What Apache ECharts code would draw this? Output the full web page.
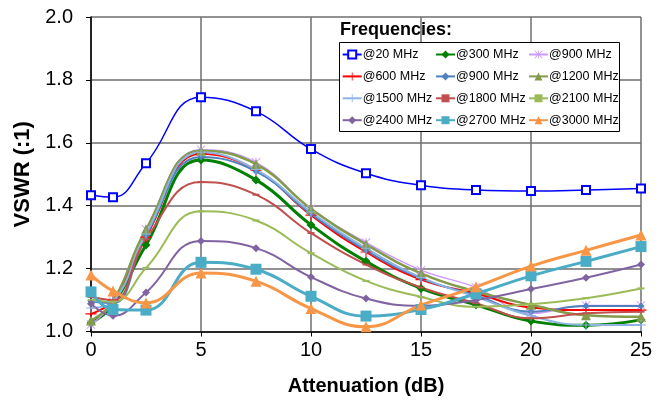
<!DOCTYPE html>
<html><head><meta charset="utf-8">
<script src="https://cdn.jsdelivr.net/npm/echarts@6/dist/echarts.min.js"></script>
<style>html,body{margin:0;padding:0;background:#fff}#c{width:662px;height:407px}</style>
</head><body><div id="c"></div>
<script>
const attenuation = [0, 1, 2.5, 5, 7.5, 10, 12.5, 15, 17.5, 20, 22.5, 25];
const seriesNames = ['@20 MHz','@300 MHz','@900 MHz','@600 MHz','@900 MHz ','@1200 MHz','@1500 MHz','@1800 MHz','@2100 MHz','@2400 MHz','@2700 MHz','@3000 MHz'];
const vswr20   = [1.433,1.427,1.535,1.745,1.700,1.580,1.503,1.465,1.450,1.447,1.450,1.455];
const vswr300  = [1.027,1.085,1.275,1.545,1.482,1.339,1.223,1.137,1.085,1.033,1.020,1.037];
const vswr900a = [1.022,1.095,1.325,1.578,1.538,1.390,1.283,1.195,1.140,1.058,1.083,1.083];
const vswr600  = [1.056,1.100,1.300,1.565,1.513,1.370,1.253,1.165,1.121,1.076,1.068,1.068];
const vswr900b = [1.095,1.090,1.305,1.555,1.509,1.374,1.258,1.169,1.115,1.063,1.081,1.081];
const vswr1200 = [1.035,1.095,1.324,1.575,1.532,1.390,1.277,1.185,1.127,1.085,1.052,1.047];
const vswr1500 = [1.075,1.095,1.310,1.570,1.515,1.380,1.265,1.172,1.110,1.050,1.021,1.021];
const vswr1800 = [1.110,1.100,1.293,1.475,1.435,1.313,1.213,1.140,1.090,1.042,1.058,1.063];
const vswr2100 = [1.100,1.095,1.202,1.382,1.353,1.249,1.161,1.110,1.079,1.087,1.106,1.137];
const vswr2400 = [1.088,1.050,1.124,1.288,1.265,1.173,1.105,1.082,1.100,1.135,1.171,1.213];
const vswr2700 = [1.126,1.070,1.068,1.220,1.198,1.112,1.049,1.070,1.120,1.177,1.223,1.270];
const vswr3000 = [1.180,1.129,1.091,1.186,1.160,1.073,1.015,1.084,1.142,1.208,1.258,1.307];
const allValues = [vswr20,vswr300,vswr900a,vswr600,vswr900b,vswr1200,vswr1500,vswr1800,vswr2100,vswr2400,vswr2700,vswr3000];

const FONT = 'Liberation Sans, Arial, sans-serif';
const STAR = 'path://M9,0L11,0L11,20L9,20Z M1.4,0L0,1.4L18.6,20L20,18.6Z M18.6,0L20,1.4L1.4,20L0,18.6Z';
const PLUS = 'path://M9,0L11,0L11,9L20,9L20,11L11,11L11,20L9,20L9,11L0,11L0,9L9,9Z';
const DASH = 'path://M0,0L14,0L14,4L0,4Z';
const styles = [
  {color:'#0000FF', w:1.5, sym:'emptyRect', size:8},
  {color:'#008000', w:3, sym:'diamond', size:9},
  {color:'#CC99FF', w:1.5, sym:STAR, size:9},
  {color:'#FF0000', w:2, sym:PLUS, size:11},
  {color:'#4F81BD', w:2, sym:'diamond', size:7},
  {color:'#849B4B', w:2.5, sym:'triangle', size:10},
  {color:'#8DB3E2', w:2, sym:PLUS, size:10},
  {color:'#C0504D', w:2, sym:DASH, size:[7,2]},
  {color:'#9BBB59', w:2, sym:DASH, size:[7,2]},
  {color:'#8064A2', w:2, sym:'diamond', size:8},
  {color:'#4BACC6', w:3, sym:'rect', size:11},
  {color:'#F79646', w:3, sym:'triangle', size:11}
];
const series = allValues.map((vals, i) => ({
  name: seriesNames[i], type:'line', smooth:0.45,
  data: attenuation.map((x, j) => [x, vals[j]]),
  symbol: styles[i].sym, symbolSize: styles[i].size, showSymbol:true,
  lineStyle:{color:styles[i].color, width:styles[i].w},
  itemStyle:{color:styles[i].color, borderColor:styles[i].color, borderWidth: i===0?1.5:0},
  emphasis:{disabled:true}, animation:false
}));
const legendBase = {
  orient:'vertical', padding:0, itemWidth:19, itemHeight:10, itemGap:8.9, top:48, z:20,
  textStyle:{fontFamily:FONT, fontSize:12.5, color:'#000', padding:[0,0,0,-4]},
  selectedMode:false
};
const option = {
  animation:false,
  grid:{left:91, right:21, top:17, bottom:75.5},
  xAxis:{type:'value', min:0, max:25, interval:5,
    name:'Attenuation (dB)', nameLocation:'middle', nameGap:45,
    nameTextStyle:{fontFamily:FONT, fontSize:20, fontWeight:'bold', color:'#000'},
    axisLine:{lineStyle:{color:'#000', width:1.5}},
    axisTick:{show:true, inside:false, length:5, lineStyle:{color:'#000'}},
    axisLabel:{fontFamily:FONT, fontSize:20, color:'#000', margin:9},
    splitLine:{show:true, lineStyle:{color:'#6e6e6e', width:1.5}}},
  yAxis:{type:'value', min:1, max:2, interval:0.2,
    name:'VSWR (:1)', nameLocation:'middle', nameGap:52,
    nameTextStyle:{fontFamily:FONT, fontSize:22, fontWeight:'bold', color:'#000'},
    axisLine:{show:true, lineStyle:{color:'#000', width:1.5}},
    axisTick:{show:true, inside:false, length:5, lineStyle:{color:'#000'}},
    axisLabel:{fontFamily:FONT, fontSize:20, color:'#000', margin:18, formatter:v=>v.toFixed(1)},
    splitLine:{show:true, lineStyle:{color:'#6e6e6e', width:1.5}}},
  legend:[
    Object.assign({}, legendBase, {left:341.7, data:[seriesNames[0],seriesNames[3],seriesNames[6],seriesNames[9]]}),
    Object.assign({}, legendBase, {left:435, data:[seriesNames[1],seriesNames[4],seriesNames[7],seriesNames[10]]}),
    Object.assign({}, legendBase, {left:528, data:[seriesNames[2],seriesNames[5],seriesNames[8],seriesNames[11]]})
  ],
  graphic:[
    {type:'rect', z:10, shape:{x:339.5, y:42.5, width:280, height:89}, style:{fill:'#fff', stroke:'#000', lineWidth:1}},
    {type:'text', z:10, left:340, top:21, style:{text:'Frequencies:', fontFamily:FONT, fontSize:18, fontWeight:'bold', fill:'#000'}}
  ],
  series: series
};
const chart = echarts.init(document.getElementById('c'), null, {renderer:'canvas'});
chart.setOption(option);
</script></body></html>
